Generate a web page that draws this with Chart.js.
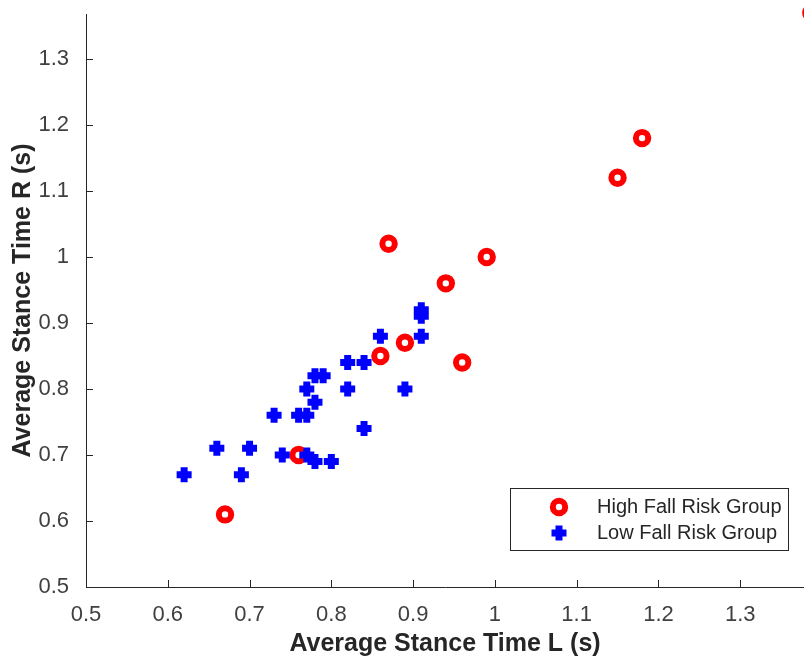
<!DOCTYPE html>
<html>
<head>
<meta charset="utf-8">
<script src="https://cdn.jsdelivr.net/npm/chart.js@4/dist/chart.umd.min.js"></script>
<style>
  html, body { margin: 0; padding: 0; background: #fff; }
  #wrap { width: 804px; height: 664px; }
</style>
</head>
<body>
<div id="wrap"><canvas id="c" width="804" height="664"></canvas></div>
<script>
// ---- data ----
const highX = [0.67, 0.76, 0.86, 0.89, 0.87, 0.94, 0.99, 0.96, 1.15, 1.18, 1.387];
const highY = [0.61, 0.70, 0.85, 0.87, 1.02, 0.96, 1.00, 0.84, 1.12, 1.18, 1.37];
const lowX = [0.62, 0.66, 0.69, 0.70, 0.73, 0.74, 0.76, 0.77, 0.77, 0.78, 0.77, 0.78,
              0.80, 0.78, 0.79, 0.82, 0.82, 0.84, 0.84, 0.86, 0.89, 0.91, 0.91, 0.91];
const lowY = [0.67, 0.71, 0.67, 0.71, 0.76, 0.70, 0.76, 0.76, 0.80, 0.78, 0.70, 0.69,
              0.69, 0.82, 0.82, 0.80, 0.84, 0.84, 0.74, 0.88, 0.80, 0.88, 0.91, 0.92];
const seriesNames = ['High Fall Risk Group', 'Low Fall Risk Group'];
const xTickValues = [0.5, 0.6, 0.7, 0.8, 0.9, 1.0, 1.1, 1.2, 1.3];
const xTickLabels = ['0.5', '0.6', '0.7', '0.8', '0.9', '1', '1.1', '1.2', '1.3'];
const yTickValues = [0.5, 0.6, 0.7, 0.8, 0.9, 1.0, 1.1, 1.2, 1.3];
const yTickLabels = ['0.5', '0.6', '0.7', '0.8', '0.9', '1', '1.1', '1.2', '1.3'];
const xTitle = 'Average Stance Time L (s)';
const yTitle = 'Average Stance Time R (s)';

const FONT = "'Liberation Sans', Arial, Helvetica, sans-serif";
const AXIS_COLOR = '#262626';
const TICK_COLOR = '#404040';
const RED = '#ff0000';
const BLUE = '#0000ff';

const toPts = (xs, ys) => xs.map((x, i) => ({x: x, y: ys[i]}));

const inwardTicks = {
  id: 'inwardTicks',
  afterDatasetsDraw(chart) {
    const ctx = chart.ctx;
    const xs = chart.scales.x, ys = chart.scales.y;
    const a = chart.chartArea;
    ctx.save();
    ctx.strokeStyle = AXIS_COLOR;
    ctx.lineWidth = 1;
    ctx.beginPath();
    xs.ticks.forEach(t => {
      const px = Math.round(xs.getPixelForValue(t.value)) + 0.5;
      ctx.moveTo(px, a.bottom);
      ctx.lineTo(px, a.bottom - 7);
    });
    ys.ticks.forEach(t => {
      const py = Math.round(ys.getPixelForValue(t.value)) + 0.5;
      ctx.moveTo(a.left, py);
      ctx.lineTo(a.left + 7, py);
    });
    ctx.stroke();
    ctx.restore();
  }
};

const boxLegend = {
  id: 'boxLegend',
  afterDraw(chart) {
    const ctx = chart.ctx;
    const bx = 510.5, by = 488.5, bw = 278, bh = 62;
    ctx.save();
    ctx.fillStyle = '#ffffff';
    ctx.fillRect(bx, by, bw, bh);
    ctx.strokeStyle = AXIS_COLOR;
    ctx.lineWidth = 1;
    ctx.strokeRect(bx, by, bw, bh);
    const mx = 559;
    const rows = [507, 533];
    ctx.beginPath();
    ctx.arc(mx, rows[0], 6.2, 0, Math.PI * 2);
    ctx.fillStyle = '#ffffff';
    ctx.fill();
    ctx.lineWidth = 6;
    ctx.strokeStyle = RED;
    ctx.stroke();
    ctx.beginPath();
    ctx.lineWidth = 7;
    ctx.strokeStyle = BLUE;
    ctx.moveTo(mx - 7.5, rows[1]); ctx.lineTo(mx + 7.5, rows[1]);
    ctx.moveTo(mx, rows[1] - 7.5); ctx.lineTo(mx, rows[1] + 7.5);
    ctx.stroke();
    ctx.fillStyle = AXIS_COLOR;
    ctx.font = "20px " + FONT;
    ctx.textAlign = 'left';
    ctx.textBaseline = 'middle';
    ctx.fillText(seriesNames[0], 597, rows[0]);
    ctx.fillText(seriesNames[1], 597, rows[1]);
    ctx.restore();
  }
};

new Chart(document.getElementById('c'), {
  type: 'scatter',
  data: {
    datasets: [
      {
        label: seriesNames[0],
        data: toPts(highX, highY),
        pointStyle: 'circle',
        pointRadius: 6.2,
        pointBorderWidth: 6,
        pointBackgroundColor: '#ffffff',
        pointBorderColor: RED,
        pointHoverRadius: 6.2,
        clip: false,
        order: 1
      },
      {
        label: seriesNames[1],
        data: toPts(lowX, lowY),
        pointStyle: 'cross',
        pointRadius: 7.5,
        pointBorderWidth: 7,
        pointBorderColor: BLUE,
        pointBackgroundColor: BLUE,
        pointHoverRadius: 7.5,
        clip: false,
        order: 0
      }
    ]
  },
  options: {
    responsive: false,
    animation: false,
    events: [],
    layout: { autoPadding: false, padding: { top: 14, right: 0, left: 0, bottom: 0 } },
    plugins: { legend: { display: false }, tooltip: { enabled: false } },
    scales: {
      x: {
        type: 'linear',
        position: 'bottom',
        min: 0.5,
        max: 1.378,
        afterBuildTicks: s => { s.ticks = xTickValues.map(v => ({value: v})); },
        afterFit: s => { s.height = 77; s.paddingLeft = 0; s.paddingRight = 0; },
        grid: { display: false },
        border: { display: true, color: AXIS_COLOR, width: 1 },
        ticks: {
          font: { family: FONT, size: 22 },
          color: TICK_COLOR,
          padding: 7,
          maxRotation: 0,
          autoSkip: false,
          callback: (v) => { const i = xTickValues.findIndex(t => Math.abs(t - v) < 1e-9); return i >= 0 ? xTickLabels[i] : ''; }
        },
        title: {
          display: true,
          text: xTitle,
          color: AXIS_COLOR,
          font: { family: FONT, size: 25, weight: 'bold' },
          padding: { top: 0, bottom: 5 }
        }
      },
      y: {
        type: 'linear',
        position: 'left',
        min: 0.5,
        max: 1.368,
        afterBuildTicks: s => { s.ticks = yTickValues.map(v => ({value: v})); },
        afterFit: s => { s.width = 86; s.paddingTop = 0; s.paddingBottom = 0; },
        grid: { display: false },
        border: { display: true, color: AXIS_COLOR, width: 1 },
        ticks: {
          font: { family: FONT, size: 22 },
          color: TICK_COLOR,
          padding: 9,
          autoSkip: false,
          callback: (v) => { const i = yTickValues.findIndex(t => Math.abs(t - v) < 1e-9); return i >= 0 ? yTickLabels[i] : ''; }
        },
        title: {
          display: true,
          text: yTitle,
          color: AXIS_COLOR,
          font: { family: FONT, size: 25, weight: 'bold' },
          padding: { top: 8, bottom: 0 }
        }
      }
    }
  },
  plugins: [inwardTicks, boxLegend]
});
</script>
</body>
</html>
